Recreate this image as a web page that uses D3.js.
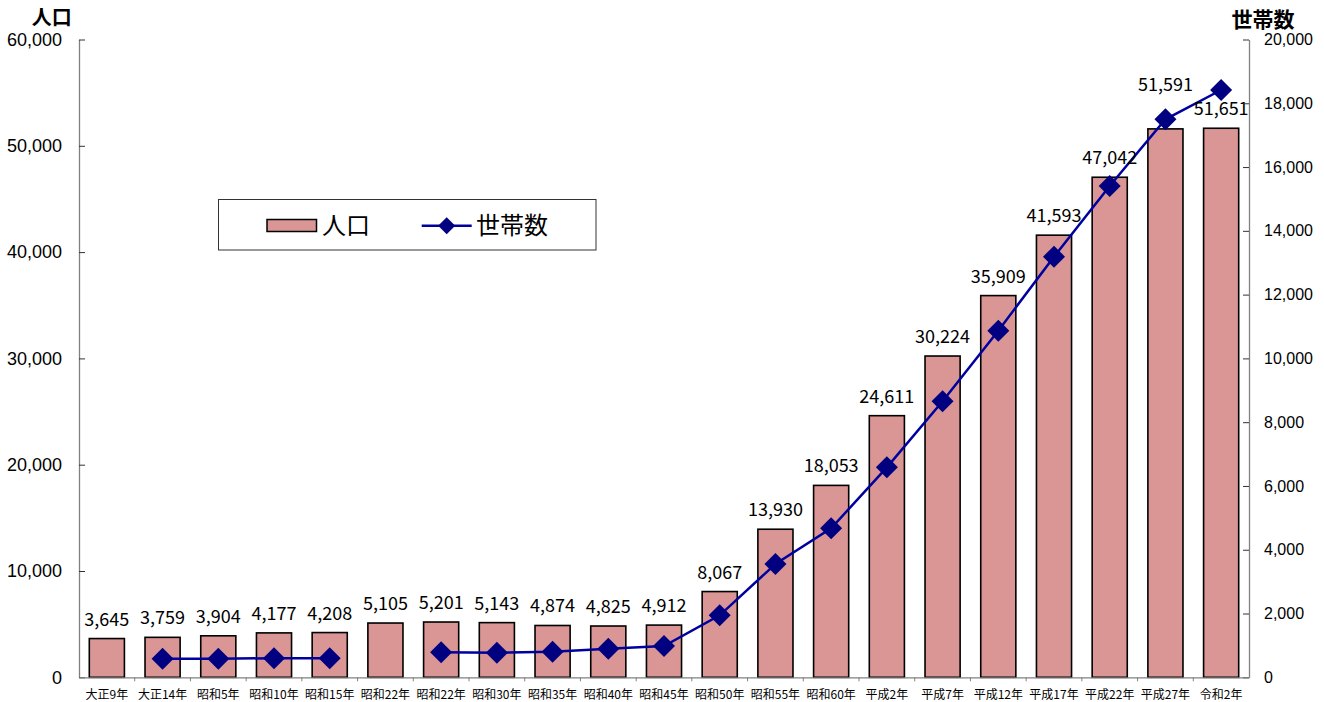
<!DOCTYPE html>
<html>
<head>
<meta charset="utf-8">
<script src="https://cdn.jsdelivr.net/npm/d3@7"></script>
<style>
  html, body { margin: 0; padding: 0; background: #fff; }
  svg { display: block; }
</style>
</head>
<body>
<svg id="chart" width="1324" height="702"></svg>
<script>
// ---- data ----
const categories = ["大正9年","大正14年","昭和5年","昭和10年","昭和15年","昭和22年","昭和22年","昭和30年","昭和35年","昭和40年","昭和45年","昭和50年","昭和55年","昭和60年","平成2年","平成7年","平成12年","平成17年","平成22年","平成27年","令和2年"];
const population = [3645,3759,3904,4177,4208,5105,5201,5143,4874,4825,4912,8067,13930,18053,24611,30224,35909,41593,47042,51591,51651];
const households = [null,583,585,598,598,null,784,771,803,897,981,1944,3553,4672,6585,8655,10869,13189,15406,17498,18416];
const leftTicks = [0,10000,20000,30000,40000,50000,60000];
const rightTicks = [0,2000,4000,6000,8000,10000,12000,14000,16000,18000,20000];
const legendLabels = ["人口","世帯数"];
const axisTitles = ["人口","世帯数"];

// ---- layout ----
const svg = d3.select("#chart");
const plotLeft = 79, plotRight = 1249, plotTop = 39.5, plotBottom = 677.3;
const barFill = "#D99694", lineColor = "#0000A0", markerColor = "#000080";
const axisColor = "#808080";
const cjk = "'Noto Sans CJK JP', 'Noto Sans', sans-serif";
const latin = "'Liberation Sans', Arial, sans-serif";

const idx = categories.map((d, i) => i);
const x = d3.scaleBand().domain(idx).range([plotLeft, plotRight]).paddingInner(0.37).paddingOuter(0.185);
const yL = d3.scaleLinear().domain([0, 60000]).range([plotBottom, plotTop]);
const yR = d3.scaleLinear().domain([0, 20000]).range([plotBottom, plotTop]);

// bars
svg.append("g").selectAll("rect").data(population).join("rect")
  .attr("x", (d, i) => x(i))
  .attr("y", d => yL(d))
  .attr("width", x.bandwidth())
  .attr("height", d => plotBottom - yL(d))
  .attr("fill", barFill)
  .attr("stroke", "#000")
  .attr("stroke-width", 1.6);

// line
const line = d3.line()
  .defined(d => d != null)
  .x((d, i) => x(i) + x.bandwidth() / 2)
  .y(d => yR(d));
svg.append("path").datum(households)
  .attr("d", line)
  .attr("fill", "none")
  .attr("stroke", lineColor)
  .attr("stroke-width", 2.5);

const dm = 11;
const diamond = `M0,${-dm}L${dm},0L0,${dm}L${-dm},0Z`;
svg.append("g").selectAll("path").data(households.map((d, i) => ({d, i})).filter(o => o.d != null)).join("path")
  .attr("d", diamond)
  .attr("transform", o => `translate(${x(o.i) + x.bandwidth() / 2},${yR(o.d)})`)
  .attr("fill", markerColor);

// value labels
svg.append("g").selectAll("text").data(population).join("text")
  .attr("x", (d, i) => x(i) + x.bandwidth() / 2)
  .attr("y", (d, i) => {
    const barTop = yL(d);
    let base = barTop - 13;
    const h = households[i];
    if (h != null) {
      const my = yR(h);
      if (my > base - 14 && my < barTop) base = my - 28;
    }
    return base;
  })
  .attr("text-anchor", "middle")
  .attr("font-family", cjk)
  .attr("font-size", 18)
  .attr("fill", "#000")
  .text(d => d3.format(",")(d));

// axes
const fmt = d3.format(",");
const gL = svg.append("g").attr("transform", `translate(${plotLeft},0)`)
  .call(d3.axisLeft(yL).tickValues(leftTicks).tickFormat(fmt).tickSize(-6).tickSizeOuter(0).tickPadding(17));
const gR = svg.append("g").attr("transform", `translate(${plotRight},0)`)
  .call(d3.axisRight(yR).tickValues(rightTicks).tickFormat(fmt).tickSize(-6).tickSizeOuter(0).tickPadding(15));
gL.selectAll("text").attr("font-family", latin).attr("font-size", 18).attr("fill", "#000");
gR.selectAll("text").attr("font-family", latin).attr("font-size", 16).attr("fill", "#000");
[gL, gR].forEach(g => {
  g.select(".domain").attr("stroke", axisColor).attr("stroke-width", 1.3);
  g.selectAll(".tick line").attr("stroke", "#333");
});

const gX = svg.append("g").attr("transform", `translate(0,${plotBottom})`)
  .call(d3.axisBottom(x).tickFormat(i => categories[i]).tickSize(0).tickSizeOuter(0).tickPadding(0));
gX.select(".domain").attr("stroke", axisColor).attr("stroke-width", 1.3);
gX.selectAll(".tick text")
  .attr("y", 21.5).attr("dy", null)
  .attr("font-family", cjk).attr("font-size", 12).attr("fill", "#000");
// category boundary ticks
const step = x.step();
svg.append("g").selectAll("line").data(idx.slice(1)).join("line")
  .attr("x1", i => x(i) - (step - x.bandwidth()) / 2)
  .attr("x2", i => x(i) - (step - x.bandwidth()) / 2)
  .attr("y1", plotBottom).attr("y2", plotBottom + 4)
  .attr("stroke", axisColor).attr("stroke-width", 1);

// axis titles
svg.append("text").attr("x", 51.7).attr("y", 25).attr("text-anchor", "middle")
  .attr("font-family", cjk).attr("font-weight", "bold").attr("font-size", 20).text(axisTitles[0]);
svg.append("text").attr("x", 1263).attr("y", 27).attr("text-anchor", "middle")
  .attr("font-family", cjk).attr("font-weight", "bold").attr("font-size", 21).text(axisTitles[1]);

// legend
const lg = svg.append("g");
lg.append("rect").attr("x", 218.5).attr("y", 199.5).attr("width", 377.5).attr("height", 50.5)
  .attr("fill", "#fff").attr("stroke", "#333").attr("stroke-width", 1);
lg.append("rect").attr("x", 267).attr("y", 219.5).attr("width", 49.5).attr("height", 12)
  .attr("fill", barFill).attr("stroke", "#000").attr("stroke-width", 1.5);
lg.append("text").attr("x", 322).attr("y", 234).attr("font-family", cjk).attr("font-size", 24).text(legendLabels[0]);
lg.append("line").attr("x1", 421.7).attr("x2", 471.7).attr("y1", 225.7).attr("y2", 225.7)
  .attr("stroke", lineColor).attr("stroke-width", 2.5);
lg.append("path").attr("d", "M0,-8.5L8.5,0L0,8.5L-8.5,0Z").attr("transform", "translate(446.7,225.7)").attr("fill", markerColor);
lg.append("text").attr("x", 476).attr("y", 234).attr("font-family", cjk).attr("font-size", 24).text(legendLabels[1]);
</script>
</body>
</html>
